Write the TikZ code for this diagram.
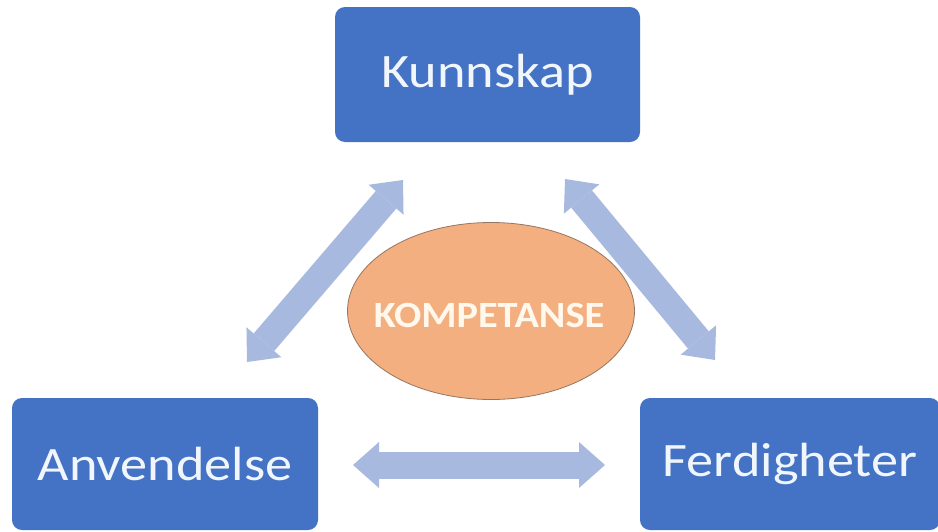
\documentclass[tikz,border=0pt]{standalone}
\usepackage{fontspec}
\setmainfont{Carlito}
\usepackage{graphicx}
\usetikzlibrary{arrows.meta,shapes.geometric}
\definecolor{boxblue}{RGB}{68,114,196}
\definecolor{arrowblue}{RGB}{168,185,224}
\definecolor{ellorange}{RGB}{244,175,128}
\definecolor{elledge}{RGB}{150,118,96}
\definecolor{boxtext}{RGB}{240,246,252}
\definecolor{elltext}{RGB}{255,248,236}
\tikzset{
  bluebox/.style={rectangle, rounded corners=10pt, fill=boxblue, draw=none,
    inner sep=0pt, text=boxtext,
    font=\fontsize{48}{50}\selectfont},
  dblarrow/.style={draw=arrowblue, line width=27pt,
    {Triangle[width=46pt,length=26pt,line width=0pt]}-{Triangle[width=46pt,length=26pt,line width=0pt]}},
  core/.style={ellipse, fill=ellorange, draw=elledge, line width=0.8pt,
    inner sep=0pt},
  coretext/.style={inner sep=0pt, text=elltext,
    font=\fontsize{37}{40}\selectfont\bfseries}
}
\begin{document}
\begin{tikzpicture}[x=1pt,y=-1pt]
\useasboundingbox (0,0) rectangle (938,531);
\clip (0,0) rectangle (938,531);
\fill[white] (0,0) rectangle (938,531);

\node[bluebox, minimum width=305pt, minimum height=135pt] (kunn) at (487.5,74.5) {\scalebox{1.13}[1]{Kunnskap}};
\node[bluebox, minimum width=306pt, minimum height=132pt] (anv) at (165,464) {\scalebox{1.13}[1]{Anvendelse}};
\node[bluebox, minimum width=300pt, minimum height=132pt] (ferd) at (790,464) {\scalebox{1.13}[1]{Ferdigheter}};

\node[core, minimum width=287pt, minimum height=177pt] (komp) at (491,311) {};
\node[coretext] (komplabel) at (489,315) {\scalebox{1.09}[1]{KOMPETANSE}};

\coordinate (a1) at (403,180);
\coordinate (a2) at (247,362);
\coordinate (b1) at (565,179);
\coordinate (b2) at (715,360);
\coordinate (c1) at (353,465);
\coordinate (c2) at (605,465);

\draw[dblarrow] (a1) -- (a2);
\draw[dblarrow] (b1) -- (b2);
\draw[dblarrow] (c1) -- (c2);
\end{tikzpicture}
\end{document}
